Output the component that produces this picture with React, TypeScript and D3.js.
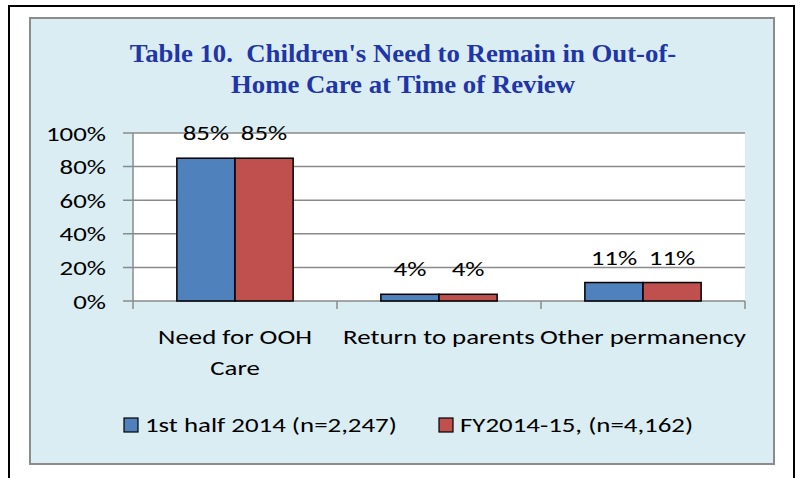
import React from "react";
import * as d3 from "d3";

const categories = ["Need for OOH Care", "Return to parents", "Other permanency"];
const categoryLines = [["Need for OOH", "Care"], ["Return to parents"], ["Other permanency"]];
const seriesNames = ["1st half 2014 (n=2,247)", "FY2014-15, (n=4,162)"];
const series1 = [85, 4, 11];
const series2 = [85, 4, 11];
const yTicks = [0, 20, 40, 60, 80, 100];
const colors = ["#4F81BD", "#C0504D"];

const W = 802;
const H = 478;
const plot = { left: 133, right: 745, top: 133, bottom: 301 };
const FONT = "Carlito, Calibri, Lato, 'Open Sans', sans-serif";
const FS = 21;
const SX = 1.28;

function T({ x, y, anchor = "start", children, fs = FS, sx = SX, fill = "#000", family = FONT, weight = "normal" }: any) {
  return (
    <g transform={`translate(${x},${y}) scale(${sx},1)`}>
      <text x={0} y={0} textAnchor={anchor} fontFamily={family} fontSize={fs} fill={fill} fontWeight={weight} style={{ whiteSpace: "pre" }}>
        {children}
      </text>
    </g>
  );
}

export default function App() {
  const x0 = d3.scaleBand<string>().domain(categories).range([plot.left, plot.right]).paddingInner(0).paddingOuter(0);
  const y = d3.scaleLinear().domain([0, 100]).range([plot.bottom, plot.top]);
  const bw = x0.bandwidth();
  const barW = bw * 0.285;
  const data = [series1, series2];
  const TITLE_FONT = "'Liberation Serif', 'Times New Roman', serif";

  return (
    <svg width={W} height={H} style={{ position: "absolute", left: 0, top: 0, display: "block" }}>
      <rect x={0} y={0} width={W} height={H} fill="#ffffff" />
      {/* outer black frame */}
      <rect x={9} y={6} width={785} height={480} fill="none" stroke="#000" strokeWidth={2} />
      {/* panel */}
      <rect x={30} y={18} width={744} height={446} fill="#DAEDF3" stroke="#8c8c8c" strokeWidth={2} />
      {/* title */}
      <T x={403} y={62} anchor="middle" fs={26} sx={1.03} fill="#1F35A8" family={TITLE_FONT} weight="bold">
        {"Table 10.  Children's Need to Remain in Out-of-"}
      </T>
      <T x={403} y={93} anchor="middle" fs={26} sx={1.03} fill="#1F35A8" family={TITLE_FONT} weight="bold">
        Home Care at Time of Review
      </T>
      {/* plot area */}
      <rect x={plot.left} y={plot.top} width={plot.right - plot.left} height={plot.bottom - plot.top} fill="#ffffff" />
      {yTicks.map((t) => (
        <g key={t}>
          <line x1={plot.left - 10} x2={plot.right} y1={y(t)} y2={y(t)} stroke="#8a8a8a" strokeWidth={1.5} />
          <T x={106} y={y(t) + 7.5} anchor="end">
            {`${t}%`}
          </T>
        </g>
      ))}
      <line x1={plot.left} x2={plot.left} y1={plot.top} y2={plot.bottom} stroke="#8a8a8a" strokeWidth={1.5} />
      {[...categories.map((c) => x0(c) as number), plot.right].map((xv, i) => (
        <line key={i} x1={xv} x2={xv} y1={plot.bottom} y2={plot.bottom + 8} stroke="#8a8a8a" strokeWidth={1.5} />
      ))}
      {categories.map((c, ci) => {
        const cx = (x0(c) as number) + bw / 2;
        return (
          <g key={c}>
            {data.map((s, si) => {
              const bx = cx - barW + si * barW;
              return (
                <g key={si}>
                  <rect x={bx} y={y(s[ci])} width={barW} height={y(0) - y(s[ci])} fill={colors[si]} stroke="#000" strokeWidth={1.5} />
                  <T x={bx + barW / 2} y={y(s[ci]) - 18} anchor="middle">
                    {`${s[ci]}%`}
                  </T>
                </g>
              );
            })}
            {categoryLines[ci].map((ln, li) => (
              <T key={li} x={cx} y={344 + li * 31} anchor="middle">
                {ln}
              </T>
            ))}
          </g>
        );
      })}
      {/* legend */}
      {seriesNames.map((n, i) => {
        const lx = [124, 439][i];
        return (
          <g key={n}>
            <rect x={lx} y={418} width={14} height={14} fill={colors[i]} stroke="#000" strokeWidth={1.2} />
            <T x={lx + 21} y={432}>
              {n}
            </T>
          </g>
        );
      })}
    </svg>
  );
}
